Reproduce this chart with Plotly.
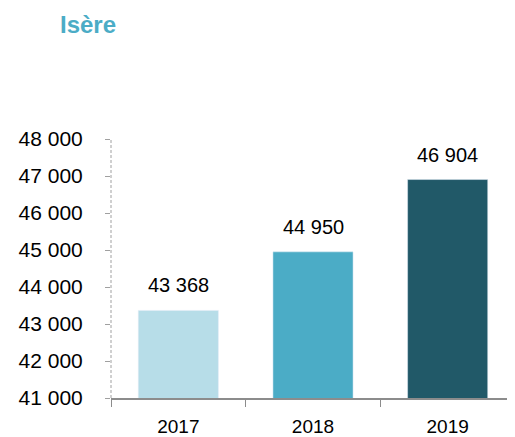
import plotly.graph_objects as go

# Data
years = ["2017", "2018", "2019"]
values = [43368, 44950, 46904]
bar_colors = ["#b7dde8", "#4bacc6", "#215968"]
y_ticks = [41000, 42000, 43000, 44000, 45000, 46000, 47000, 48000]

fig = go.Figure(go.Bar(x=years, y=values, marker_color=bar_colors, width=0.595))

# Data labels above bars, space as thousands separator
for i, v in enumerate(values):
    fig.add_annotation(x=i, y=v, text=f"{v:,}".replace(",", " "), showarrow=False,
                       yshift=25, font=dict(size=20, color="#000000", family="Liberation Sans"))

# Dashed y axis line
fig.add_shape(type="line", xref="paper", yref="paper", x0=0, x1=0, y0=0, y1=1,
              line=dict(color="#a0a0a0", width=1, dash="3px,2px"))

# page has an 8px body offset, so the figure is a bit smaller than the window
fig.update_layout(
    width=507, height=429,
    margin=dict(l=103, r=0, t=131, b=39),
    plot_bgcolor="white", paper_bgcolor="white",
    separators=", ",
    showlegend=False,
    font=dict(family="Liberation Sans", color="#000000"),
    title=dict(text="<b>Isère</b>", x=52 / 507, xanchor="left", y=1 - 17 / 429, yanchor="middle",
               font=dict(size=24, color="#4bacc6", family="Liberation Sans"), automargin=False),
)

fig.update_xaxes(type="category", range=[-0.5, 2.5], showline=True, linecolor="#8c8c8c",
                 linewidth=1.5, ticks="outside", tickson="boundaries", ticklen=7,
                 tickcolor="#8c8c8c", tickfont=dict(size=19), ticklabelstandoff=10,
                 showgrid=False, automargin=False)
fig.update_yaxes(range=[41000, 48000], tickvals=y_ticks, tickformat=",d", showgrid=False,
                 showline=False, zeroline=False, ticks="outside", ticklen=5, tickcolor="#a0a0a0",
                 tickfont=dict(size=21), ticklabelstandoff=18, automargin=False)

fig.write_html("out.html")
